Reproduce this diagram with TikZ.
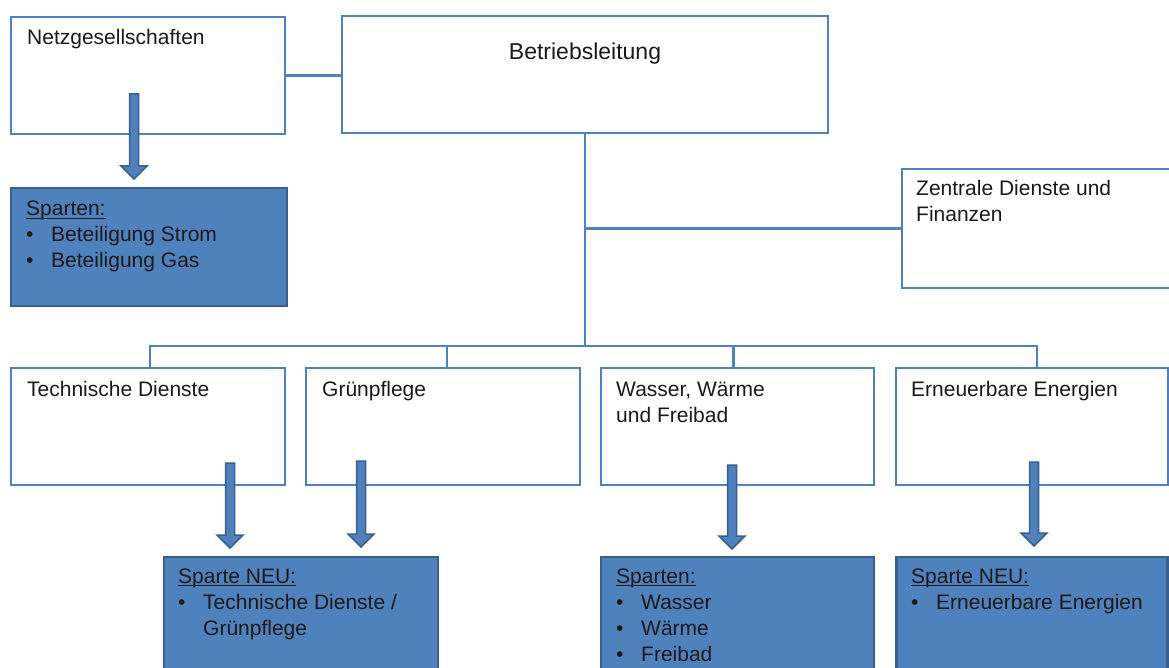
\documentclass[tikz,border=0pt]{standalone}
\usepackage{fontspec}
\setmainfont{Liberation Sans}
\usetikzlibrary{calc}
\definecolor{obox}{HTML}{4F81BD}
\definecolor{odark}{HTML}{3A5F8E}
\definecolor{otext}{HTML}{1A1A1A}
\newcommand\myul[1]{\setbox0\hbox{#1}\rlap{\rule[-3.2pt]{\wd0}{1.2pt}}\box0}
\newcommand\blt{\makebox[25pt][l]{•}}
\newcommand\lines[1]{\begin{tabular}[t]{@{}l@{}}#1\end{tabular}}
\tikzset{
  whitebox/.style={draw=obox, line width=2.2pt, fill=white, minimum width=#1, minimum height=117pt, inner sep=0pt},
  bluebox/.style={draw=odark, line width=2.8pt, fill=obox, minimum width=#1, minimum height=118pt, inner sep=0pt},
  conn/.style={draw=obox, line width=2.2pt},
  txt/.style={anchor=base west, inner sep=0pt, text=otext, font=\fontsize{21}{26}\selectfont},
  blockarr/.style={fill=obox, draw=odark, line width=1.5pt, line join=miter}
}
\newcommand\barrow[2]{%
  \draw[blockarr] let \p1=(#1), \p2=(#2) in
    ({\x1-4.5pt},\y1) -- ({\x1+4.5pt},\y1) -- ({\x1+4.5pt},{\y2+13pt}) -- ({\x1+13pt},{\y2+13pt})
    -- (\x1,\y2) -- ({\x1-13pt},{\y2+13pt}) -- ({\x1-4.5pt},{\y2+13pt}) -- cycle;}
\begin{document}
\begin{tikzpicture}[x=1pt,y=-1pt]
\useasboundingbox (0,0) rectangle (1169,668);
% top row
\node[whitebox=274pt, minimum height=117pt] (netz) at (148,75.5) {};
\node[whitebox=486pt, minimum height=117pt] (betr) at (585,74.5) {};
\node[whitebox=280pt, minimum height=119pt] (zent) at (1042,228.5) {};
\node[bluebox=276pt] (sp1) at (149,247) {};
% second row
\node[whitebox=274pt] (tech) at (148,426.5) {};
\node[whitebox=274pt] (gruen) at (443,426.5) {};
\node[whitebox=273pt] (wass) at (737.5,426.5) {};
\node[whitebox=272pt] (erne) at (1032,426.5) {};
% bottom blue boxes
\node[bluebox=274pt, minimum height=140pt] (sp2) at (301,627) {};
\node[bluebox=273pt, minimum height=140pt] (sp3) at (737.5,627) {};
\node[bluebox=271pt, minimum height=140pt] (sp4) at (1032,627) {};
% connectors
\coordinate (bus) at (585,346);
\draw[conn] (netz.east) -- (netz.east -| betr.west);
\draw[conn] (betr.south) -- (betr.south |- bus);
\draw[conn] (zent.west) -- (zent.west -| betr.south);
\draw[conn] ($(tech.north)+(2,0)$) -- ($(tech.north |- bus)+(2,0)$) -- ($(erne.north |- bus)+(5,0)$) -- ($(erne.north)+(5,0)$);
\draw[conn] ($(gruen.north)+(4,0)$) -- ($(gruen.north |- bus)+(4,0)$);
\draw[conn] ($(wass.north)+(-4,0)$) -- ($(wass.north |- bus)+(-4,0)$);
% block arrows
\coordinate (a1s) at (134,94);  \coordinate (a1e) at (134,179);
\coordinate (a2s) at (230,463); \coordinate (a2e) at (230,548);
\coordinate (a3s) at (361,461); \coordinate (a3e) at (361,547);
\coordinate (a4s) at (732,465); \coordinate (a4e) at (732,549);
\coordinate (a5s) at (1034,462); \coordinate (a5e) at (1034,546);
\barrow{a1s}{a1e}
\barrow{a2s}{a2e}
\barrow{a3s}{a3e}
\barrow{a4s}{a4e}
\barrow{a5s}{a5e}
% texts
\node[txt] (tnetz) at (27,45) {Netzgesellschaften};
\node[txt, anchor=base, font=\fontsize{23}{28}\selectfont] (tbetr) at (585,60) {Betriebsleitung};
\node[txt] (tzent) at (916,196) {\lines{Zentrale Dienste und\\Finanzen}};
\node[txt] (ttech) at (27,396) {Technische Dienste};
\node[txt] (tgruen) at (322,396) {Grünpflege};
\node[txt] (twass) at (616,396) {\lines{Wasser, Wärme\\und Freibad}};
\node[txt] (terne) at (911,396) {Erneuerbare Energien};
\node[txt] (tsp1) at (26,216) {\lines{\myul{Sparten:}\\\blt Beteiligung Strom\\\blt Beteiligung Gas}};
\node[txt] (tsp2) at (178,583) {\lines{\myul{Sparte NEU:}\\\blt Technische Dienste /\\\hspace*{25pt}Grünpflege}};
\node[txt] (tsp3) at (616,583) {\lines{\myul{Sparten:}\\\blt Wasser\\\blt Wärme\\\blt Freibad}};
\node[txt] (tsp4) at (911,583) {\lines{\myul{Sparte NEU:}\\\blt Erneuerbare Energien}};
\end{tikzpicture}
\end{document}
